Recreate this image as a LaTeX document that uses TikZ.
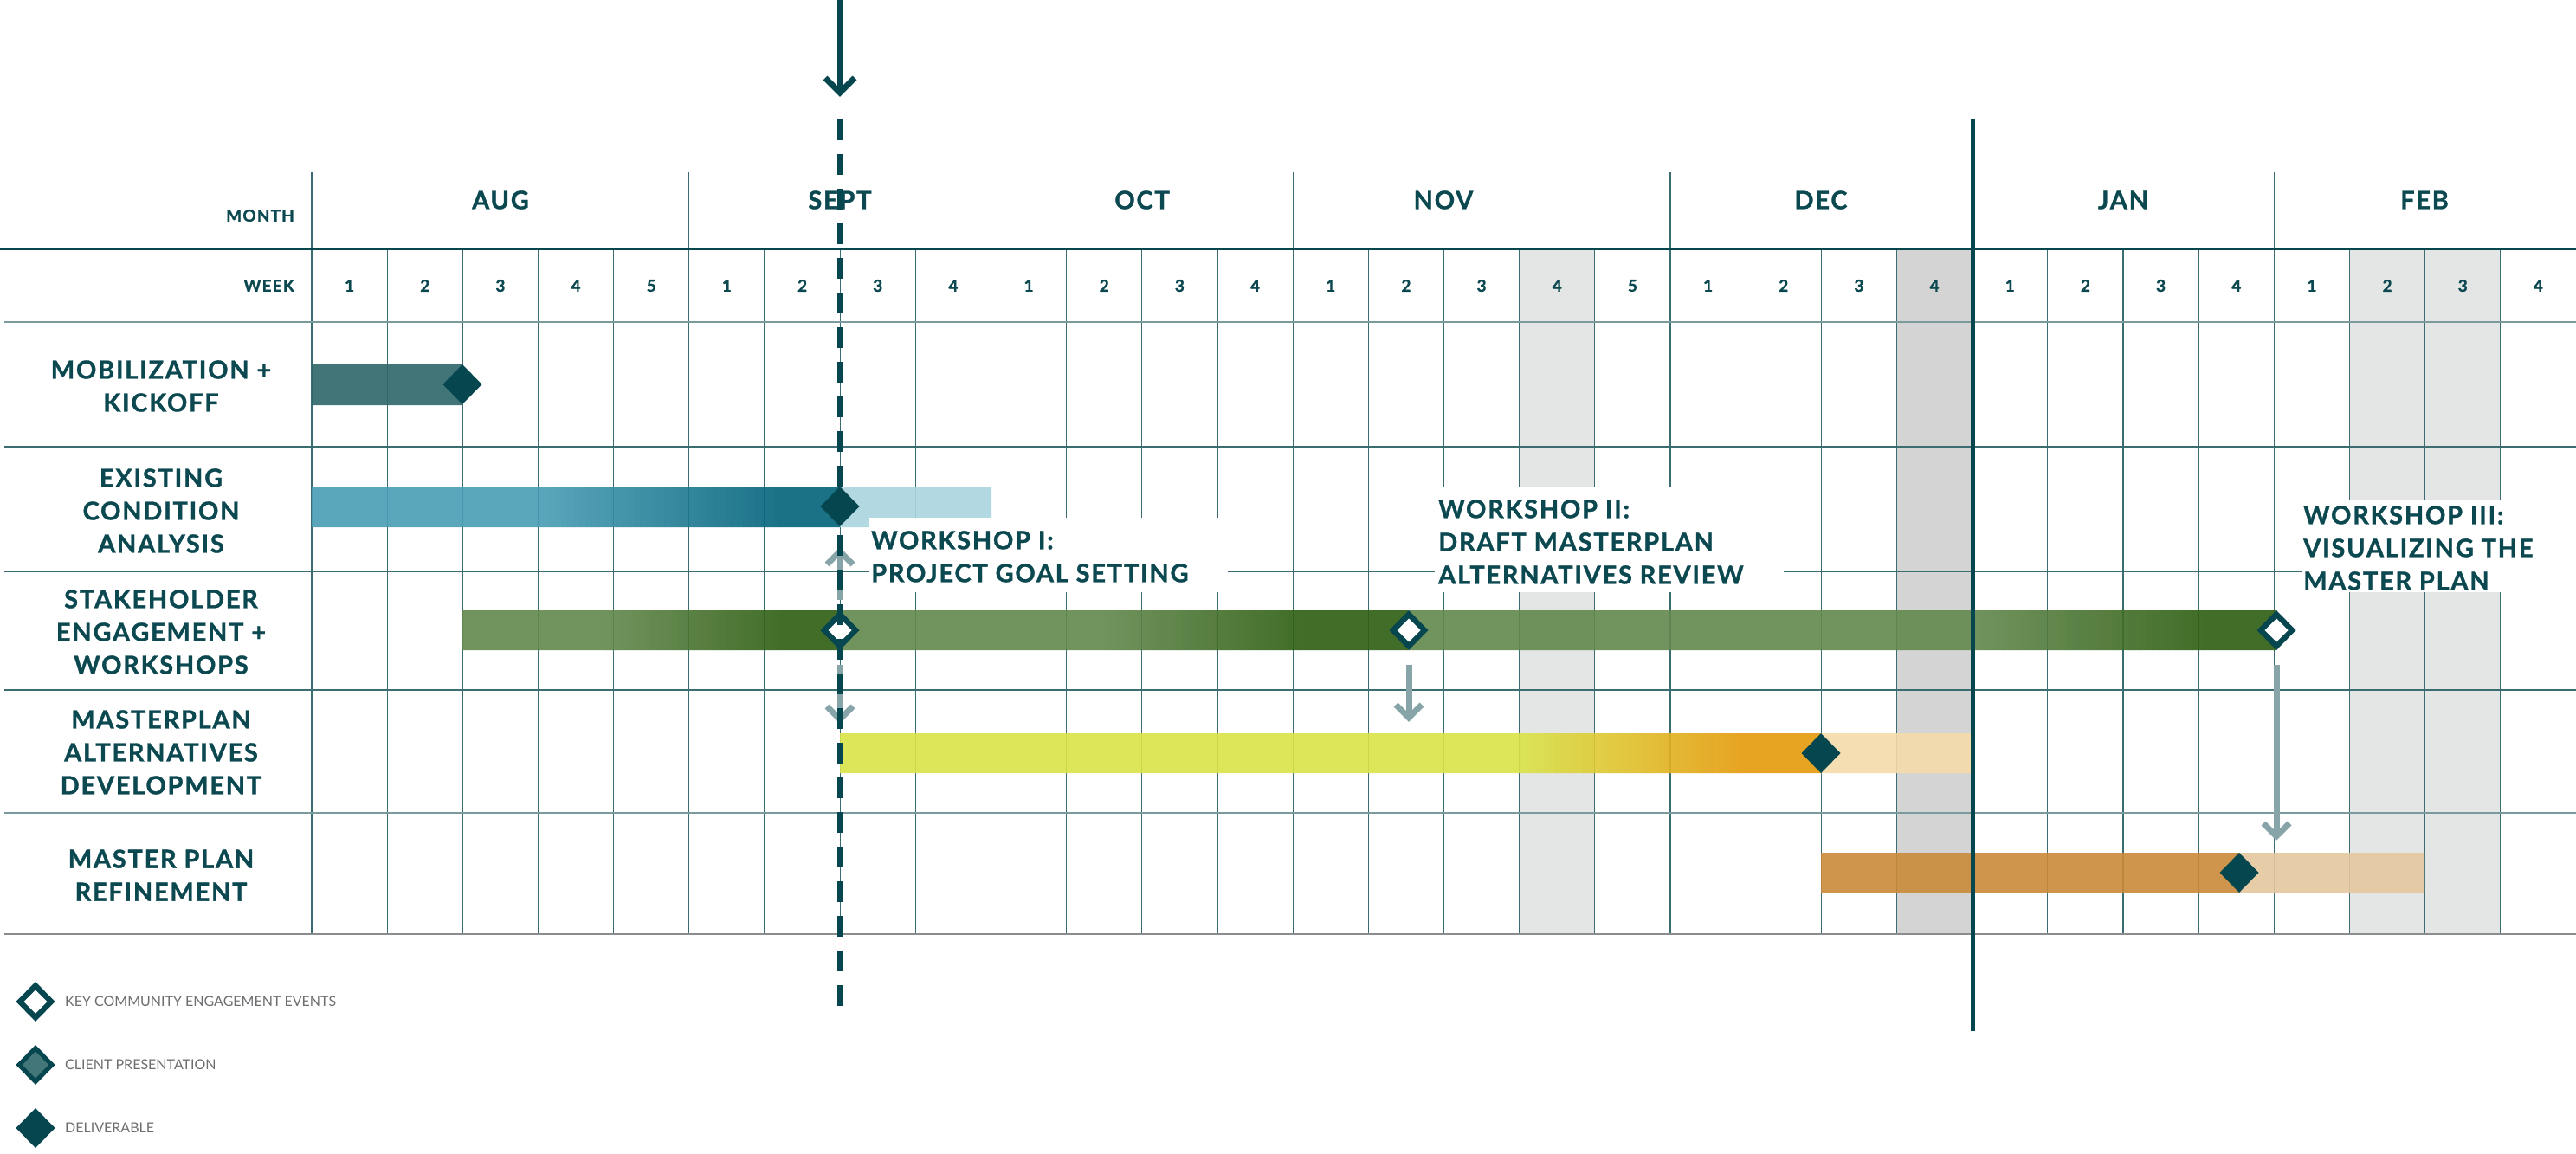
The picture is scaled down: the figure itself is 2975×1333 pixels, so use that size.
\documentclass[tikz,border=0pt]{standalone}
\usepackage{fontspec}
\setmainfont{Lato}[BoldFeatures={FakeBold=1,LetterSpace=6}]
\definecolor{dk}{HTML}{06464F}
\definecolor{txt}{HTML}{0B4850}
\definecolor{gridc}{HTML}{3A6C72}
\definecolor{gridl}{HTML}{7A9A9E}
\definecolor{mob}{HTML}{2D676A}
\definecolor{mobleg}{HTML}{427679}
\definecolor{exl}{HTML}{499EB5}
\definecolor{exd}{HTML}{03637B}
\definecolor{exx}{HTML}{AAD4DE}
\definecolor{grl}{HTML}{62884D}
\definecolor{grd}{HTML}{2E5E12}
\definecolor{yel}{HTML}{DAE348}
\definecolor{org}{HTML}{E59B0C}
\definecolor{orx}{HTML}{F5DBA9}
\definecolor{refc}{HTML}{CA8A3A}
\definecolor{refx}{HTML}{E5C79F}
\definecolor{gcol}{HTML}{E4E6E5}
\definecolor{gcold}{HTML}{D4D4D4}
\definecolor{garr}{HTML}{87A5A8}
\definecolor{legt}{HTML}{6D6E71}
\def\W{87.1667}
\newcommand\gradbar[6]{%
  \foreach \i in {0,...,39}{%
    \pgfmathsetmacro\xa{#1+(#2-#1)*\i/40}%
    \pgfmathsetmacro\xb{#1+(#2-#1)*(\i+1)/40+0.6}%
    \pgfmathsetmacro\pp{100*(\i+0.5)/40}%
    \fill[#6!\pp!#5] (\xa,#3) rectangle (\xb,#4);
  }}
\tikzset{
  rowlbl/.style={font=\fontsize{29}{38}\selectfont\bfseries, text=txt, align=center, inner sep=0pt},
  monlbl/.style={font=\fontsize{29}{34}\selectfont\bfseries, text=txt, inner sep=0pt},
  wklbl/.style={font=\fontsize{19}{22}\selectfont\bfseries, text=txt, inner sep=0pt},
  wslbl/.style={font=\fontsize{29}{38}\selectfont\bfseries\addfontfeature{LetterSpace=13}, text=txt, align=left, inner sep=0pt, anchor=north west},
  legtxt/.style={font=\fontsize{16}{19}\selectfont, text=legt, inner sep=0pt, anchor=west},
  vline/.style={gridc, line width=1.2pt},
  garrow/.style={garr, line width=7pt},
  deliv/.pic={\fill[dk] (0,-23) -- (22.5,0) -- (0,23) -- (-22.5,0) -- cycle;},
  keyev/.pic={\fill[dk] (0,-23) -- (22.5,0) -- (0,23) -- (-22.5,0) -- cycle;
              \fill[white] (0,-13.5) -- (13.5,0) -- (0,13.5) -- (-13.5,0) -- cycle;},
  clientp/.pic={\fill[dk] (0,-23) -- (22.5,0) -- (0,23) -- (-22.5,0) -- cycle;
              \fill[mobleg] (0,-15.5) -- (15,0) -- (0,15.5) -- (-15,0) -- cycle;}
}
\begin{document}
\begin{tikzpicture}[x=1pt,y=-1pt]
\useasboundingbox (0,0) rectangle (2975,1333);
\fill[white] (0,0) rectangle (2975,1333);

% shaded weeks
\fill[gcol] ({360+16*\W},288) rectangle ({360+17*\W},1079);
\fill[gcold] ({360+21*\W},288) rectangle ({360+22*\W},1079);
\fill[gcol] ({360+27*\W},288) rectangle ({360+29*\W},1079);

% vertical grid
\foreach \k in {1,2,3,4,6,7,8,10,11,12,14,15,16,17,19,20,21,23,24,25,27,28,29}
  \draw[vline] ({360+\k*\W},288) -- ({360+\k*\W},1079);
\foreach \k in {0,5,9,13,18,26}
  \draw[vline] ({360+\k*\W},199) -- ({360+\k*\W},1079);

% horizontal grid
\draw[dk, line width=2.5pt] (0,288) -- (2975,288);
\draw[gridl, line width=1.8pt] (5,372) -- (2975,372);
\draw[gridc, line width=1.5pt] (5,516) -- (2975,516);
\draw[gridc, line width=1.5pt] (5,660) -- (2975,660);
\draw[gridc, line width=1.5pt] (5,797) -- (2975,797);
\draw[gridl, line width=1.8pt] (5,939) -- (2975,939);
\draw[black!45, line width=2pt] (5,1079) -- (2975,1079);

% header texts
\node[wklbl, anchor=east] (monthhd) at (340,249) {MONTH};
\node[wklbl, anchor=east] (weekhd) at (340,330) {WEEK};
\foreach \m/\x [count=\i] in {AUG/578,SEPT/970,OCT/1319,NOV/1667,DEC/2103,JAN/2452,FEB/2800}
  \node[monlbl] (month\i) at (\x,231) {\m};
\foreach \n [count=\i from 0] in {1,2,3,4,5,1,2,3,4,1,2,3,4,1,2,3,4,5,1,2,3,4,1,2,3,4,1,2,3,4}
  \node[wklbl] (week\i) at ({360+(\i+0.5)*\W},330) {\n};

% row labels
\node[rowlbl] (r1) at (186,446) {MOBILIZATION +\\KICKOFF};
\node[rowlbl] (r2) at (186,590) {EXISTING\\CONDITION\\ANALYSIS};
\node[rowlbl] (r3) at (186,730) {STAKEHOLDER\\ENGAGEMENT +\\WORKSHOPS};
\node[rowlbl] (r4) at (186,869) {MASTERPLAN\\ALTERNATIVES\\DEVELOPMENT};
\node[rowlbl] (r5) at (186,1011) {MASTER PLAN\\REFINEMENT};

% bars
\begin{scope}[transparency group, opacity=0.9]
  \fill[mob] (360,421) rectangle (534,468);
  % existing
  \fill[exl] (360,562) rectangle (621,609);
  \gradbar{620}{900}{562}{609}{exl}{exd}
  \fill[exd] (899.5,562) rectangle (970,609);
  \fill[exx] (970,562) rectangle (1145,609);
  % stakeholder
  \fill[grl] (534,705) rectangle (701,751);
  \gradbar{700}{905}{705}{751}{grl}{grd}
  \fill[grd] (904.5,705) rectangle (970,751);
  \fill[grl] (970,705) rectangle (1276,751);
  \gradbar{1275}{1500}{705}{751}{grl}{grd}
  \fill[grd] (1499.5,705) rectangle (1626,751);
  \fill[grl] (1626,705) rectangle (2281,751);
  \gradbar{2280}{2545}{705}{751}{grl}{grd}
  \fill[grd] (2544.5,705) rectangle (2629,751);
  % masterplan alternatives
  \fill[yel] (970,847) rectangle (1759,893);
  \gradbar{1758}{2010}{847}{893}{yel}{org}
  \fill[org] (2009.5,847) rectangle (2103,893);
  \fill[orx] (2103,847) rectangle (2278,893);
  % refinement
  \fill[refc] (2103,985) rectangle (2586,1031);
  \fill[refx] (2586,985) rectangle (2800,1031);
\end{scope}

% milestones
\pic at (534,444) {deliv};
\pic at (970,585) {deliv};
\pic at (970,728) {keyev};
\pic at (1627,728) {keyev};
\pic at (2629,728) {keyev};
\pic at (2103,870) {deliv};
\pic at (2586,1008) {deliv};

% workshop labels
\fill[white] (1004,598) rectangle (1418,684);
\node[wslbl] (ws1) at (1006,613) {WORKSHOP I:\\PROJECT GOAL SETTING};
\fill[white] (1657,562) rectangle (2060,684);
\node[wslbl] (ws2) at (1661,577) {WORKSHOP II:\\DRAFT MASTERPLAN\\ALTERNATIVES REVIEW};
\fill[white] (2659,577) rectangle (2975,684);
\node[wslbl] (ws3) at (2660,584) {WORKSHOP III:\\VISUALIZING THE\\MASTER PLAN};

% gray arrows
\coordinate (a1s) at (970,693); \coordinate (a1e) at (970,637);
\draw[garrow] (a1s) -- (a1e);
\draw[garrow] (955,652) -- (a1e) -- (985,652);
\coordinate (a2s) at (970,768); \coordinate (a2e) at (970,831);
\draw[garrow] (a2s) -- (a2e);
\draw[garrow] (955,816) -- (a2e) -- (985,816);
\coordinate (a3s) at (1627,768); \coordinate (a3e) at (1627,829);
\draw[garrow] (a3s) -- (a3e);
\draw[garrow] (1612,814) -- (a3e) -- (1642,814);
\coordinate (a4s) at (2629,768); \coordinate (a4e) at (2629,966);
\draw[garrow] (a4s) -- (a4e);
\draw[garrow] (2614,951) -- (a4e) -- (2644,951);

% today line
\coordinate (ts) at (970,138); \coordinate (te) at (970,1162);
\draw[dk, line width=7pt, dash pattern=on 24pt off 16pt] (ts) -- (te);
\coordinate (tas) at (970,0); \coordinate (tae) at (970,107);
\draw[dk, line width=7pt] (tas) -- (tae);
\draw[dk, line width=7pt] (953,90) -- (tae) -- (987,90);

% year line
\coordinate (ys) at (2278,138); \coordinate (ye) at (2278,1191);
\draw[dk, line width=5pt] (ys) -- (ye);

% legend
\pic at (41,1157) {keyev};
\node[legtxt] (lg1) at (75,1157) {KEY COMMUNITY ENGAGEMENT EVENTS};
\pic at (41,1230) {clientp};
\node[legtxt] (lg2) at (75,1230) {CLIENT PRESENTATION};
\pic at (41,1303) {deliv};
\node[legtxt] (lg3) at (75,1303) {DELIVERABLE};
\end{tikzpicture}
\end{document}
